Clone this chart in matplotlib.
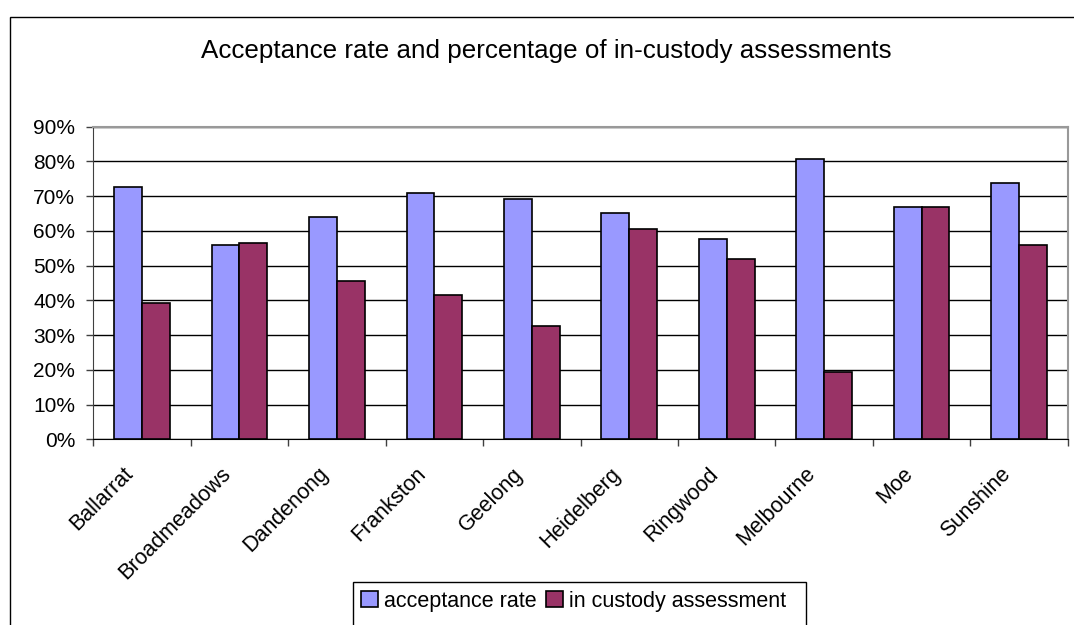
import matplotlib
matplotlib.use("Agg")
import matplotlib.pyplot as plt
from matplotlib.patches import Rectangle
from matplotlib.transforms import ScaledTranslation
import numpy as np

plt.rcParams['font.family'] = ['Liberation Sans', 'DejaVu Sans']

# Data
offices = ["Ballarrat", "Broadmeadows", "Dandenong", "Frankston", "Geelong",
           "Heidelberg", "Ringwood", "Melbourne", "Moe", "Sunshine"]
acceptance_rate = [72.7, 55.9, 64.0, 70.9, 69.2, 65.1, 57.7, 80.7, 66.8, 73.9]
in_custody = [39.2, 56.5, 45.5, 41.5, 32.7, 60.5, 51.9, 19.4, 66.8, 55.8]
y_ticks = [0, 10, 20, 30, 40, 50, 60, 70, 80, 90]
series_names = ["acceptance rate", "in custody assessment"]
title = "Acceptance rate and percentage of in-custody assessments"

W, H = 1074, 625
fig = plt.figure(figsize=(W / 100, H / 100), dpi=100)

# Outer chart border (runs past the right and bottom edges)
fig.patches.append(Rectangle((10 / W, -0.1), 1.2, (H - 17) / H + 0.1,
                             transform=fig.transFigure, fill=False,
                             edgecolor="black", linewidth=1.0))

left, right, top, bottom = 93.3, 1067.7, 126.7, 439.3
ax = fig.add_axes([left / W, (H - bottom) / H, (right - left) / W, (bottom - top) / H])

x = np.arange(len(offices))
bw = 1 / 3.5
ax.bar(x - bw / 2, acceptance_rate, bw, color="#9999FF", edgecolor="black",
       linewidth=1.2, label=series_names[0], zorder=3)
ax.bar(x + bw / 2, in_custody, bw, color="#993366", edgecolor="black",
       linewidth=1.2, label=series_names[1], zorder=3)

ax.set_xlim(-0.5, len(offices) - 0.5)
ax.set_ylim(0, 90)
ax.set_yticks(y_ticks)
ax.set_yticklabels([f"{v}%" for v in y_ticks], fontsize=15)
ax.yaxis.grid(True, color="black", linewidth=1.0, zorder=1)
ax.set_axisbelow(True)

# Category labels: rotated, right end sitting just left of each group centre
ax.set_xticks(x)
ax.set_xticklabels([])
shift = ScaledTranslation(-19 / 100, -24 / 100, fig.dpi_scale_trans)
for xi, name in zip(x, offices):
    ax.text(xi, 0, name, fontsize=15.5, rotation=45, ha="right", va="top",
            rotation_mode="anchor",
            transform=ax.get_xaxis_transform() + shift)
ax.set_xticks(np.arange(-0.5, len(offices)), minor=True)
ax.tick_params(axis="x", which="major", length=0)
ax.tick_params(axis="x", which="minor", length=5, width=1.0, color="#404040")
ax.tick_params(axis="y", length=5, width=1.0, color="#404040", pad=8)

for side in ("top", "right"):
    ax.spines[side].set_color("#999999")
    ax.spines[side].set_linewidth(1.5)
ax.spines["left"].set_color("#404040")
ax.spines["bottom"].set_color("black")

fig.text(546 / W, 1 - 51 / H, title, fontsize=18.7, ha="center", va="center")

# Legend with a frame that runs past the bottom edge
leg = fig.legend(loc="center left", bbox_to_anchor=(361 / W, 1 - 601 / H),
                 ncol=2, frameon=False, fontsize=15.5, handlelength=0.8,
                 handleheight=0.75, handletextpad=0.25, columnspacing=0.45,
                 borderaxespad=0, borderpad=0)
fig.patches.append(Rectangle((353 / W, -0.1), (806 - 353) / W, (H - 582) / H + 0.1,
                             transform=fig.transFigure, fill=False,
                             edgecolor="black", linewidth=1.0))

fig.savefig("out.png", dpi=100)
